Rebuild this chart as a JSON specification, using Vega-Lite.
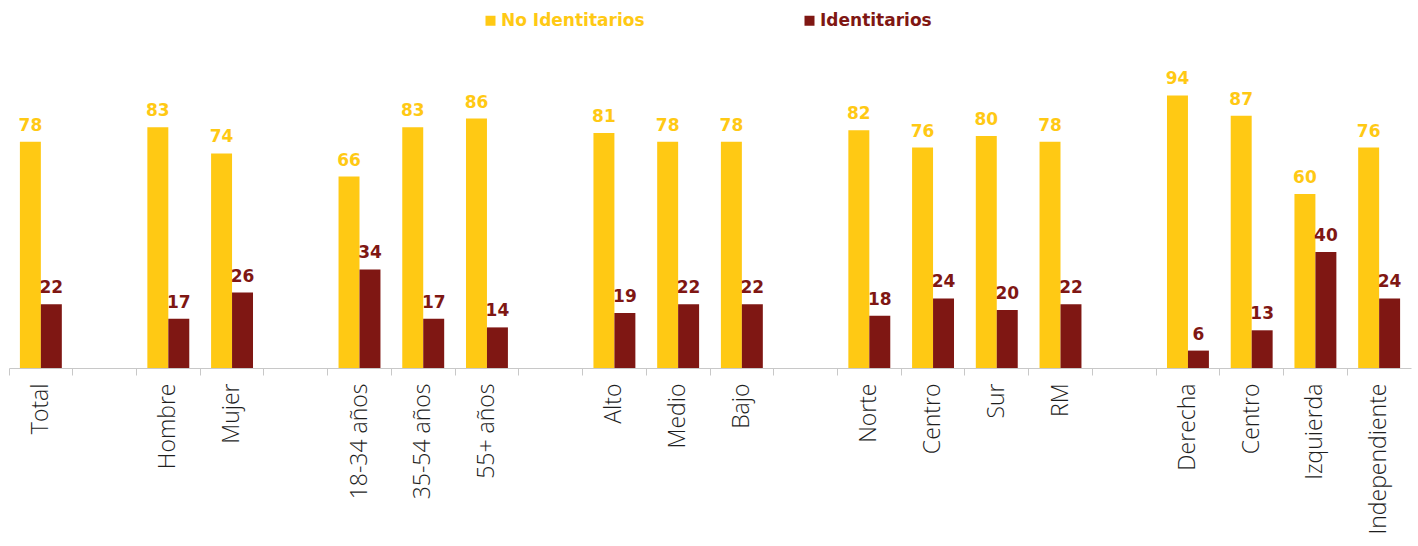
{
  "$schema": "https://vega.github.io/schema/vega-lite/v6.json",
  "width": 1402,
  "height": 290,
  "autosize": {"type": "none"},
  "padding": {"left": 9, "top": 78, "right": 7, "bottom": 178},
  "background": "white",
  "config": {"view": {"stroke": null}},
  "data": {
    "values": [
      {"cat": "a01 Total", "serie": "No Identitarios", "v": 78},
      {"cat": "a01 Total", "serie": "Identitarios", "v": 22},
      {"cat": "a03 Hombre", "serie": "No Identitarios", "v": 83},
      {"cat": "a03 Hombre", "serie": "Identitarios", "v": 17},
      {"cat": "a04 Mujer", "serie": "No Identitarios", "v": 74},
      {"cat": "a04 Mujer", "serie": "Identitarios", "v": 26},
      {"cat": "a06 18-34 años", "serie": "No Identitarios", "v": 66},
      {"cat": "a06 18-34 años", "serie": "Identitarios", "v": 34},
      {"cat": "a07 35-54 años", "serie": "No Identitarios", "v": 83},
      {"cat": "a07 35-54 años", "serie": "Identitarios", "v": 17},
      {"cat": "a08 55+ años", "serie": "No Identitarios", "v": 86},
      {"cat": "a08 55+ años", "serie": "Identitarios", "v": 14},
      {"cat": "a10 Alto", "serie": "No Identitarios", "v": 81},
      {"cat": "a10 Alto", "serie": "Identitarios", "v": 19},
      {"cat": "a11 Medio", "serie": "No Identitarios", "v": 78},
      {"cat": "a11 Medio", "serie": "Identitarios", "v": 22},
      {"cat": "a12 Bajo", "serie": "No Identitarios", "v": 78},
      {"cat": "a12 Bajo", "serie": "Identitarios", "v": 22},
      {"cat": "a14 Norte", "serie": "No Identitarios", "v": 82},
      {"cat": "a14 Norte", "serie": "Identitarios", "v": 18},
      {"cat": "a15 Centro", "serie": "No Identitarios", "v": 76},
      {"cat": "a15 Centro", "serie": "Identitarios", "v": 24},
      {"cat": "a16 Sur", "serie": "No Identitarios", "v": 80},
      {"cat": "a16 Sur", "serie": "Identitarios", "v": 20},
      {"cat": "a17 RM", "serie": "No Identitarios", "v": 78},
      {"cat": "a17 RM", "serie": "Identitarios", "v": 22},
      {"cat": "a19 Derecha", "serie": "No Identitarios", "v": 94},
      {"cat": "a19 Derecha", "serie": "Identitarios", "v": 6},
      {"cat": "a20 Centro", "serie": "No Identitarios", "v": 87},
      {"cat": "a20 Centro", "serie": "Identitarios", "v": 13},
      {"cat": "a21 Izquierda", "serie": "No Identitarios", "v": 60},
      {"cat": "a21 Izquierda", "serie": "Identitarios", "v": 40},
      {"cat": "a22 Independiente", "serie": "No Identitarios", "v": 76},
      {"cat": "a22 Independiente", "serie": "Identitarios", "v": 24}
    ]
  },
  "encoding": {
    "x": {
      "field": "cat",
      "type": "nominal",
      "scale": {
        "domain": ["a01 Total", "a02 ", "a03 Hombre", "a04 Mujer", "a05 ", "a06 18-34 años", "a07 35-54 años", "a08 55+ años", "a09 ", "a10 Alto", "a11 Medio", "a12 Bajo", "a13 ", "a14 Norte", "a15 Centro", "a16 Sur", "a17 RM", "a18 ", "a19 Derecha", "a20 Centro", "a21 Izquierda", "a22 Independiente"],
        "paddingInner": 0,
        "paddingOuter": 0
      },
      "axis": {
        "title": null,
        "labelExpr": "slice(datum.value, 4)",
        "labelAngle": -90,
        "labelFont": "Open Sans",
        "labelFontWeight": 300,
        "labelFontSize": 23,
        "labelColor": "#1e1e1e",
        "labelPadding": 8,
        "bandPosition": 0,
        "ticks": true,
        "tickSize": 7,
        "tickColor": "#c8c8c8",
        "domainColor": "#c8c8c8",
        "grid": false,
        "labelOverlap": false
      }
    },
    "xOffset": {
      "field": "serie",
      "type": "nominal",
      "scale": {"domain": ["No Identitarios", "Identitarios"], "paddingInner": 0, "paddingOuter": 0.52}
    },
    "y": {
      "field": "v",
      "type": "quantitative",
      "scale": {"domain": [0, 100], "nice": false},
      "axis": null
    },
    "color": {
      "field": "serie",
      "type": "nominal",
      "scale": {"domain": ["No Identitarios", "Identitarios"], "range": ["#FFC914", "#7F1713"]}
    }
  },
  "layer": [
    {
      "mark": {"type": "bar"},
      "encoding": {
        "color": {
          "field": "serie",
          "type": "nominal",
          "scale": {"domain": ["No Identitarios", "Identitarios"], "range": ["#FFC914", "#7F1713"]},
          "legend": {
            "title": null,
            "orient": "none",
            "legendX": 473,
            "legendY": -66,
            "direction": "horizontal",
            "symbolType": "square",
            "symbolSize": 100,
            "symbolStrokeWidth": 0,
            "labelFont": "DejaVu Sans",
            "labelFontWeight": "bold",
            "labelFontSize": 17,
            "labelOffset": 2,
            "gridAlign": "all",
            "columnPadding": 156,
            "padding": 0,
            "labelLimit": 300,
            "encode": {
              "labels": {"update": {"fill": {"signal": "datum.value == 'Identitarios' ? '#7F1713' : '#FFC914'"}}}
            }
          }
        }
      }
    },
    {
      "mark": {"type": "text", "font": "DejaVu Sans", "fontWeight": "bold", "fontSize": 17, "baseline": "alphabetic", "dy": -11},
      "encoding": {
        "text": {"field": "v", "type": "quantitative"},
        "color": {
          "field": "serie",
          "type": "nominal",
          "scale": {"domain": ["No Identitarios", "Identitarios"], "range": ["#FFC914", "#7F1713"]},
          "legend": null
        }
      }
    }
  ]
}
